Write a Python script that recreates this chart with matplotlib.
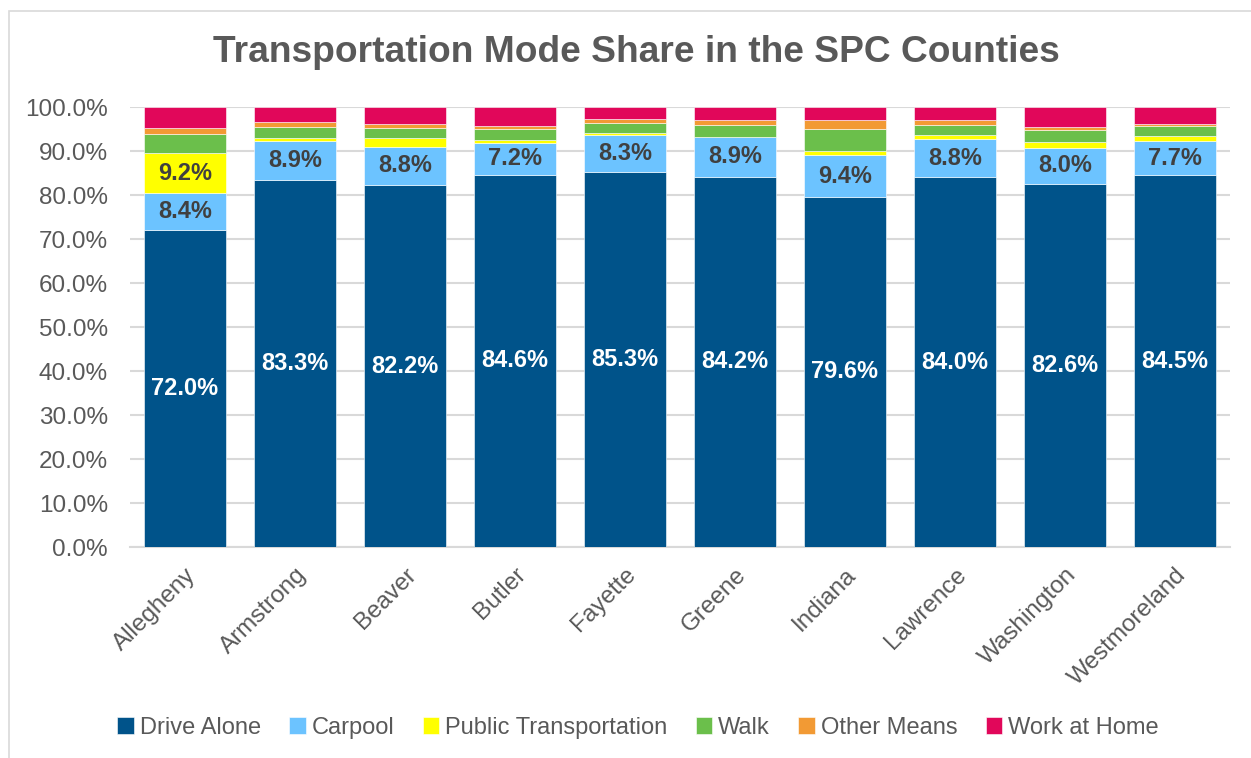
import matplotlib.pyplot as plt
import numpy as np
from matplotlib.ticker import FuncFormatter
from matplotlib.patches import Rectangle

plt.rcParams['font.family'] = ['Liberation Sans', 'DejaVu Sans']

counties = ['Allegheny', 'Armstrong', 'Beaver', 'Butler', 'Fayette',
            'Greene', 'Indiana', 'Lawrence', 'Washington', 'Westmoreland']

drive_alone = [72.0, 83.3, 82.2, 84.6, 85.3, 84.2, 79.6, 84.0, 82.6, 84.5]
carpool = [8.4, 8.9, 8.8, 7.2, 8.3, 8.9, 9.4, 8.8, 8.0, 7.7]
public_transport = [9.2, 0.8, 2.0, 0.7, 0.5, 0.1, 0.9, 0.9, 1.5, 1.1]
walk = [4.2, 2.4, 2.3, 2.4, 2.3, 2.6, 5.1, 2.3, 2.7, 2.3]
other_means = [1.4, 1.1, 0.8, 0.8, 0.9, 1.3, 2.0, 1.0, 0.7, 0.5]
work_at_home = [4.8, 3.5, 3.9, 4.3, 2.7, 2.9, 3.0, 3.0, 4.5, 3.9]

# nombre, valores, color, color de etiqueta (None = sin etiquetas)
series = [
    ('Drive Alone', drive_alone, '#00538A', 'white'),
    ('Carpool', carpool, '#6CC3FF', '#404040'),
    ('Public Transportation', public_transport, '#FFFF00', '#404040'),
    ('Walk', walk, '#6BBF4B', None),
    ('Other Means', other_means, '#F29A34', None),
    ('Work at Home', work_at_home, '#E1075A', None),
]

grey = '#595959'
W, H = 1251, 758
fig = plt.figure(figsize=(W / 100, H / 100), dpi=100)

# borde del area del grafico
fig.patches.append(Rectangle((9 / W, -0.1), 1.2, 1 - 11 / H + 0.1, transform=fig.transFigure,
                             fill=False, edgecolor='#D9D9D9', linewidth=1.2))

ax = fig.add_axes([130 / W, (H - 547) / H, 1100 / W, 440 / H])

index = np.arange(len(counties))
bottom = np.zeros(len(counties))
handles = []
for name, values, color, txt_color in series:
    values = np.array(values)
    bars = ax.bar(index, values, 0.74, bottom=bottom, color=color,
                  edgecolor='white', linewidth=0.4, label=name, zorder=3)
    handles.append(bars)
    if txt_color is not None:
        for i, v in enumerate(values):
            if v >= 5:
                ax.text(index[i], bottom[i] + v / 2, f'{v:.1f}%', ha='center', va='center',
                        color=txt_color, fontsize=17, fontweight='bold', zorder=4)
    bottom += values

ax.set_xlim(-0.5, len(counties) - 0.5)
ax.set_ylim(0, 100)
ax.set_yticks(np.arange(0, 101, 10))
ax.yaxis.set_major_formatter(FuncFormatter(lambda x, pos: f'{x:.1f}%'))
ax.grid(axis='y', color='#D9D9D9', linewidth=1.5, zorder=0)
ax.set_axisbelow(True)
for s in ['top', 'right', 'left']:
    ax.spines[s].set_visible(False)
ax.spines['bottom'].set_color('#D9D9D9')
ax.spines['bottom'].set_linewidth(1.5)
ax.tick_params(axis='both', length=0, labelsize=17.5, labelcolor=grey)
ax.tick_params(axis='y', pad=16)
ax.set_xticks(index)
ax.set_xticklabels(counties, rotation=45, ha='right', va='top', rotation_mode='anchor')
ax.tick_params(axis='x', pad=12)

fig.text(636 / W, 1 - 52 / H, 'Transportation Mode Share in the SPC Counties',
         ha='center', va='center', fontsize=26.7, fontweight='bold', color=grey)

fig.legend(handles, [s[0] for s in series], loc='center', bbox_to_anchor=(638 / W, 1 - 728 / H),
           ncol=6, frameon=False, fontsize=17, labelcolor=grey, handlelength=0.7,
           handleheight=0.7, handletextpad=0.25, columnspacing=1.2)

fig.savefig('out.png', dpi=100)
